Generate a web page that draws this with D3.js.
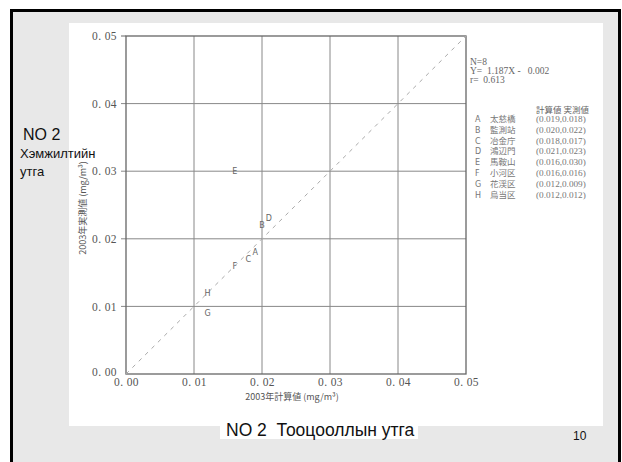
<!DOCTYPE html>
<html><head><meta charset="utf-8">
<script src="https://cdn.jsdelivr.net/npm/d3@7"></script>
<style>body{margin:0;background:#fff}svg{display:block}</style>
</head><body>
<script>
const pointLabels = ["A","B","C","D","E","F","G","H"];
const siteNames = ["太慈橋","監測站","冶金庁","鴻辺門","馬鞍山","小河区","花渓区","烏当区"];
const calcValues = [0.019,0.020,0.018,0.021,0.016,0.016,0.012,0.012];
const measValues = [0.018,0.022,0.017,0.023,0.030,0.016,0.009,0.012];
const tickValues = [0,0.01,0.02,0.03,0.04,0.05];
const statLines = ["N=8","Y=  1.187X -   0.002","r=  0.613"];
const legendHeader = "計算値 実測値";
const xTitle = "2003年計算値 (mg/m³)";
const yTitle = "2003年実測値 (mg/m³)";

const W=622,H=462;
const svg=d3.select("body").append("svg").attr("width",W).attr("height",H);
// slide frame
svg.append("rect").attr("x",11.5).attr("y",10.5).attr("width",608).attr("height",470)
  .attr("fill","#e8e8e8").attr("stroke","#000").attr("stroke-width",3);
// white picture area
svg.append("rect").attr("x",69).attr("y",23).attr("width",534).attr("height",403).attr("fill","#fff");

const x=d3.scaleLinear().domain([0,0.05]).range([126,466]);
const y=d3.scaleLinear().domain([0,0.05]).range([374,36]);
const tc="#555", serif="'Liberation Serif','DejaVu Serif',serif", cjk="'Noto Sans CJK JP',sans-serif";
const fmt=d=>d3.format(".2f")(d).replace(".",". ");

// grid
const g=svg.append("g");
g.selectAll(".vg").data(tickValues.slice(1,-1)).join("line")
  .attr("x1",d=>x(d)).attr("x2",d=>x(d)).attr("y1",y(0)).attr("y2",y(0.05))
  .attr("stroke","#888").attr("stroke-width",1);
g.selectAll(".hg").data(tickValues.slice(1,-1)).join("line")
  .attr("y1",d=>y(d)).attr("y2",d=>y(d)).attr("x1",x(0)-5).attr("x2",x(0.05))
  .attr("stroke","#888").attr("stroke-width",1);
g.append("line").attr("x1",x(0)-5).attr("x2",x(0)).attr("y1",y(0.05)).attr("y2",y(0.05)).attr("stroke","#666");
// frame
svg.append("rect").attr("x",x(0)).attr("y",y(0.05)).attr("width",x(0.05)-x(0)).attr("height",y(0)-y(0.05))
  .attr("fill","none").attr("stroke","#666").attr("stroke-width",1.3);
// 1:1 dashed line
svg.append("line").attr("x1",x(0)).attr("y1",y(0)).attr("x2",x(0.05)).attr("y2",y(0.05))
  .attr("stroke","#aaa").attr("stroke-width",1).attr("stroke-dasharray","4,5");

// axes tick labels
const xAxis=svg.append("g").attr("transform",`translate(0,${y(0)})`)
  .call(d3.axisBottom(x).tickValues(tickValues).tickFormat(fmt).tickSize(0).tickPadding(4));
const yAxis=svg.append("g").attr("transform",`translate(${x(0)},0)`)
  .call(d3.axisLeft(y).tickValues(tickValues).tickFormat(fmt).tickSize(0).tickPadding(9));
[xAxis,yAxis].forEach(a=>{a.select(".domain").remove();
  a.selectAll("text").attr("fill",tc).attr("font-family",serif).attr("font-size",11.5)
   .attr("letter-spacing",0.4);});
yAxis.selectAll(".tick").filter(d=>d===0).select("text").attr("dy","0.1em");

svg.append("text").attr("x",292).attr("y",400).attr("text-anchor","middle")
  .attr("font-family",cjk).attr("font-size",9).attr("fill",tc).text(xTitle);
svg.append("text").attr("transform",`translate(86,208) rotate(-90)`).attr("text-anchor","middle")
  .attr("font-family",cjk).attr("font-size",9).attr("fill",tc).text(yTitle);

// points as letters
const pts=pointLabels.map((l,i)=>({l,cx:calcValues[i],my:measValues[i]}));
svg.selectAll(".pt").data(pts).join("text")
  .attr("x",d=>x(d.cx)).attr("y",d=>y(d.my)).attr("dy","0.35em").attr("text-anchor","middle")
  .attr("font-family","'DejaVu Sans',sans-serif").attr("font-size",8).attr("fill","#666").text(d=>d.l);

// stats
svg.selectAll(".st").data(statLines).join("text")
  .attr("x",470).attr("y",(d,i)=>65+i*9).attr("font-family",serif).attr("font-size",9.5)
  .attr("fill","#666").style("white-space","pre").text(d=>d);
// legend table
svg.append("text").attr("x",536).attr("y",113).attr("font-family",cjk).attr("font-size",8.5)
  .attr("fill","#666").text(legendHeader);
const rows=svg.selectAll(".row").data(pts).join("g")
  .attr("transform",(d,i)=>`translate(0,${122+i*10.8})`);
rows.append("text").attr("x",475).attr("font-family","'DejaVu Sans',sans-serif").attr("font-size",8).attr("fill","#777").text(d=>d.l);
rows.append("text").attr("x",490).attr("font-family",cjk).attr("font-size",8.5).attr("fill","#777").text((d,i)=>siteNames[i]);
rows.append("text").attr("x",536).attr("font-family",serif).attr("font-size",9.2).attr("fill","#777")
  .text(d=>`(${d.cx.toFixed(3)},${d.my.toFixed(3)})`);

// slide overlays
const sans="Arial,'Liberation Sans',sans-serif";
svg.append("text").attr("x",23).attr("y",140).attr("font-family",sans).attr("font-size",16).attr("fill","#111").text("NO 2");
svg.append("text").attr("x",20).attr("y",158).attr("font-family",sans).attr("font-size",13).attr("fill","#111").text("Хэмжилтийн");
svg.append("text").attr("x",20).attr("y",176).attr("font-family",sans).attr("font-size",13).attr("fill","#111").text("утга");
svg.append("rect").attr("x",220).attr("y",417).attr("width",198).attr("height",22).attr("fill","#fff");
svg.append("text").attr("x",226).attr("y",436).attr("font-family",sans).attr("font-size",17.5).attr("fill","#111")
  .style("white-space","pre").text("NO 2  Тооцооллын утга");
svg.append("text").attr("x",573).attr("y",440).attr("font-family",sans).attr("font-size",12).attr("fill","#111").text("10");
</script>
</body></html>
